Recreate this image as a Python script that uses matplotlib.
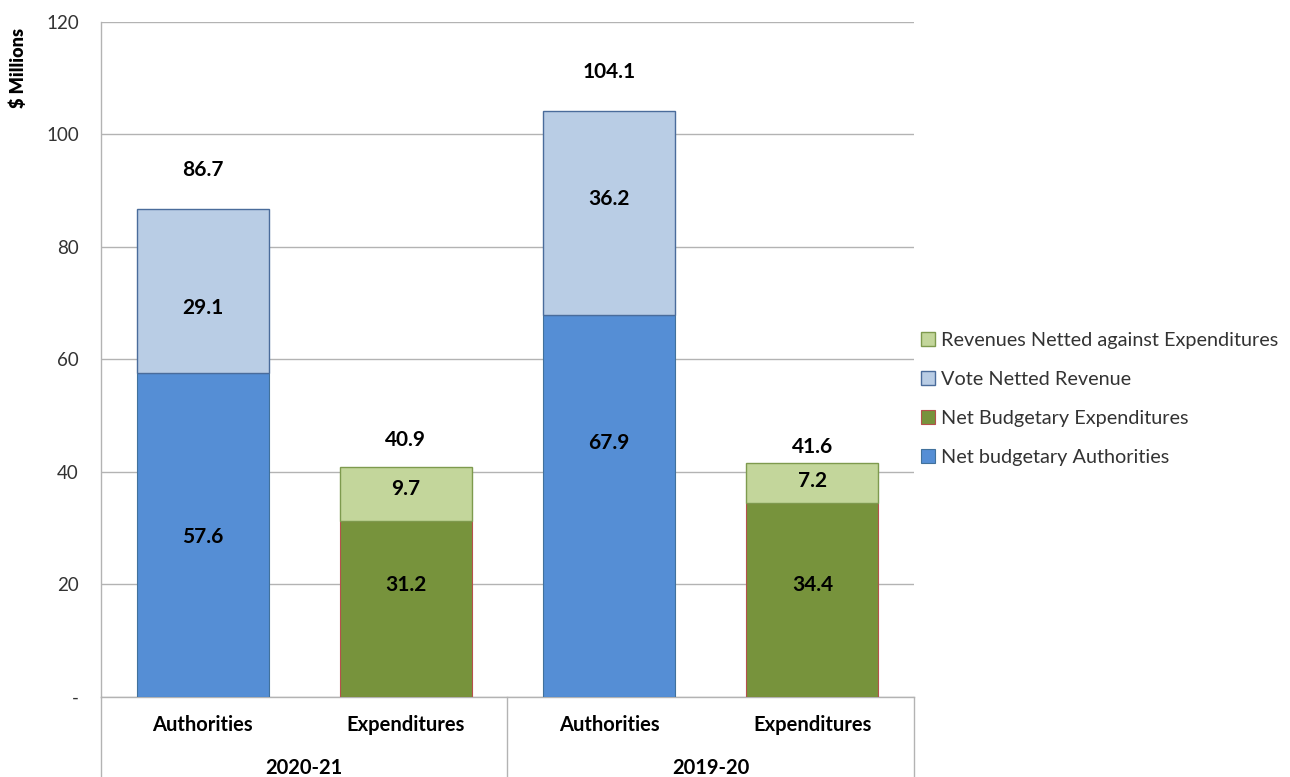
import matplotlib
matplotlib.use("Agg")
import matplotlib.pyplot as plt
import matplotlib.transforms as mtransforms
import numpy as np

plt.rcParams["font.family"] = ["Lato", "DejaVu Sans"]

# data
years = ["2020-21", "2019-20"]
bar_types = ["Authorities", "Expenditures"]
net_authorities = [57.6, 67.9]
vote_netted_revenue = [29.1, 36.2]
net_expenditures = [31.2, 34.4]
revenues_netted = [9.7, 7.2]
y_ticks = [0, 20, 40, 60, 80, 100, 120]
y_tick_labels = ["-", "20", "40", "60", "80", "100", "120"]

# where the labels sit in the reference (data units)
auth_lower_label_y = [28.4, 45.2]
auth_upper_label_y = [69.2, 88.5]
exp_lower_label_y = [19.9, 19.9]
exp_upper_label_y = [37.0, 38.4]
auth_total_label_y = [93.7, 111.1]
exp_total_label_y = [45.7, 44.4]

c_blue = "#558ED5"
c_lblue = "#B9CDE5"
c_green = "#77933C"
c_lgreen = "#C3D69B"
grid_c = "#B3B3B3"

fig = plt.figure(figsize=(12.9, 7.77), dpi=100)
ax = fig.add_axes([0.0783, 0.103, 0.6302, 0.8687])

width = 0.65
auth_x = np.array([0, 2])
exp_x = np.array([1, 3])

b1 = ax.bar(auth_x, net_authorities, width, color=c_blue, edgecolor="#41719C",
            linewidth=0.8, label="Net budgetary Authorities", zorder=3)
b2 = ax.bar(auth_x, vote_netted_revenue, width, bottom=net_authorities, color=c_lblue,
            edgecolor="#4A6C9B", linewidth=1.0, label="Vote Netted Revenue", zorder=3)
b3 = ax.bar(exp_x, net_expenditures, width, color=c_green, edgecolor="#B5514C",
            linewidth=0.8, label="Net Budgetary Expenditures", zorder=3)
b4 = ax.bar(exp_x, revenues_netted, width, bottom=net_expenditures, color=c_lgreen,
            edgecolor="#7E9A4E", linewidth=1.0, label="Revenues Netted against Expenditures", zorder=3)

lab_kw = dict(ha="center", va="center", fontsize=15, fontweight="bold", color="black", zorder=5)
for i in range(len(years)):
    ax.text(auth_x[i], auth_lower_label_y[i], f"{net_authorities[i]:.1f}", **lab_kw)
    ax.text(auth_x[i], auth_upper_label_y[i], f"{vote_netted_revenue[i]:.1f}", **lab_kw)
    ax.text(exp_x[i], exp_lower_label_y[i], f"{net_expenditures[i]:.1f}", **lab_kw)
    ax.text(exp_x[i], exp_upper_label_y[i], f"{revenues_netted[i]:.1f}", **lab_kw)
    ax.text(auth_x[i], auth_total_label_y[i],
            f"{net_authorities[i] + vote_netted_revenue[i]:.1f}", **lab_kw)
    ax.text(exp_x[i], exp_total_label_y[i],
            f"{net_expenditures[i] + revenues_netted[i]:.1f}", **lab_kw)

ax.set_xlim(-0.5, 3.5)
ax.set_ylim(0, 120)
ax.set_yticks(y_ticks)
ax.set_yticklabels(y_tick_labels, fontsize=13.5, color="#333333")
ax.tick_params(axis="y", length=0, pad=16)
ax.set_xticks([])
ax.yaxis.grid(True, color=grid_c, linewidth=1.0, zorder=0)
for s in ["top", "right"]:
    ax.spines[s].set_visible(False)
ax.spines["left"].set_color(grid_c)
ax.spines["bottom"].set_color(grid_c)
ax.spines["left"].set_linewidth(1.0)
ax.spines["bottom"].set_linewidth(1.0)

# category labels below axis
trans = mtransforms.blended_transform_factory(ax.transData, fig.transFigure)
for i, yr in enumerate(years):
    for j, bt in enumerate(bar_types):
        ax.text(2 * i + j, 1 - 725 / 777, bt, transform=trans, ha="center", va="center",
                fontsize=14.5, fontweight="bold", color="black")
    ax.text(2 * i + 0.5, 1 - 768 / 777, yr, transform=trans, ha="center", va="center",
            fontsize=14.5, fontweight="bold", color="black")
for xs in [-0.5, 1.5, 3.5]:
    ax.plot([xs, xs], [1 - 697 / 777, 0], transform=trans, color=grid_c,
            linewidth=1.0, clip_on=False)

fig.text(18 / 1290, 1 - 68 / 777, "$ Millions", rotation=90, ha="center", va="center",
         fontsize=13, fontweight="heavy")

handles = [b4, b2, b3, b1]
leg = fig.legend(handles, [h.get_label() for h in handles], loc="center left",
                 bbox_to_anchor=(903 / 1290, 1 - 399 / 777), frameon=False,
                 fontsize=14.3, handlelength=0.7, handleheight=0.7,
                 handletextpad=0.3, labelspacing=1.1, labelcolor="#333333")

fig.savefig("out.png", dpi=100)
